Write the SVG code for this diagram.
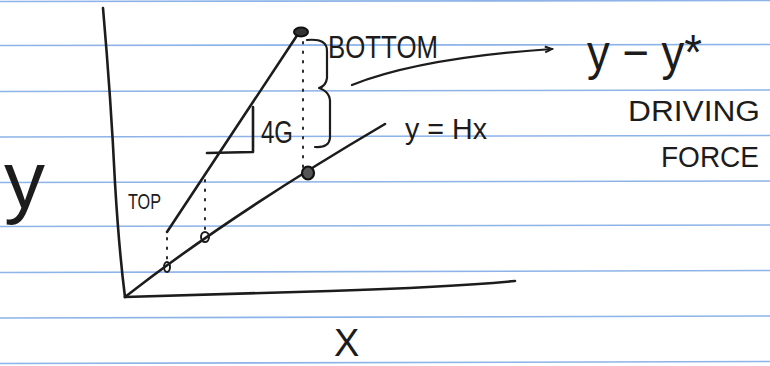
<svg xmlns="http://www.w3.org/2000/svg" width="770" height="366" viewBox="0 0 770 366">
<defs>
<style>
.rule{stroke:#8db3e8;stroke-width:1.6;fill:none}
.ink{stroke:#1c1c1c;stroke-width:2.6;fill:none;stroke-linecap:round;stroke-linejoin:round}
.dot{stroke:#2a2a2a;stroke-width:2;fill:none;stroke-dasharray:1.5 8;stroke-linecap:round}
.lbl{font-family:"Liberation Sans",Arial,sans-serif;fill:#1c1c1c}
</style>
<marker id="arr" markerWidth="10" markerHeight="10" refX="8" refY="5" orient="auto" markerUnits="userSpaceOnUse">
<path d="M1,2 L8,5 L1,8" fill="none" stroke="#1c1c1c" stroke-width="2"/>
</marker>
</defs>
<rect width="770" height="366" fill="#ffffff"/>
<g id="paper">
<line class="rule" x1="0" y1="1.5" x2="770" y2="0.5"/>
<line class="rule" x1="0" y1="45.5" x2="770" y2="44.5"/>
<line class="rule" x1="0" y1="91.5" x2="770" y2="90"/>
<line class="rule" x1="0" y1="137" x2="770" y2="135.5"/>
<line class="rule" x1="0" y1="182.5" x2="770" y2="181"/>
<line class="rule" x1="0" y1="226.5" x2="770" y2="225"/>
<line class="rule" x1="0" y1="272.5" x2="770" y2="270.5"/>
<line class="rule" x1="0" y1="318" x2="770" y2="316"/>
<line class="rule" x1="0" y1="363.5" x2="770" y2="361.5"/>
</g>
<g id="axes">
<path class="ink" d="M103,8 Q111,100 115,183 Q119,250 125,297"/>
<path class="ink" d="M125,297 L330,291 Q450,287 515,281"/>
</g>
<g id="connectors">
<path id="equilibrium-line" class="ink" d="M125,297 Q230,215 385,124"/>
<path id="operating-line" class="ink" d="M167,232 L298,34"/>
<path id="triangle" class="ink" d="M207,153 L253,152 L253,107"/>
<path class="dot" d="M303,42 L303,168"/>
<path class="dot" d="M205,180 L205,232"/>
<path class="dot" d="M167,238 L167,262"/>
<path id="brace" class="ink" style="stroke-width:2.2" d="M307,40 Q328,38 327,52 L327,78 Q326,86 319,88 Q331,92 330,104 L330,138 Q329,148 315,147"/>
<path id="arrow" class="ink" style="stroke-width:2.2" d="M352,85 Q420,58 552,49" marker-end="url(#arr)"/>
</g>
<g id="points">
<ellipse cx="301" cy="32" rx="7" ry="4.5" fill="#333" stroke="#111" stroke-width="2"/>
<ellipse cx="308" cy="173" rx="6" ry="6.5" fill="#555" stroke="#111" stroke-width="2.2"/>
<ellipse cx="205" cy="237" rx="4" ry="5" fill="none" stroke="#1c1c1c" stroke-width="2"/>
<ellipse cx="167" cy="267" rx="3" ry="5" fill="none" stroke="#1c1c1c" stroke-width="2"/>
</g>
<g id="labels">
<text class="lbl" x="328" y="58" font-size="32" textLength="110" lengthAdjust="spacingAndGlyphs">BOTTOM</text>
<text class="lbl" x="587" y="70" font-size="50" textLength="115" lengthAdjust="spacingAndGlyphs">y − y*</text>
<text class="lbl" x="628" y="121" font-size="30" textLength="132" lengthAdjust="spacingAndGlyphs">DRIVING</text>
<text class="lbl" x="661" y="167" font-size="30" textLength="98" lengthAdjust="spacingAndGlyphs">FORCE</text>
<text class="lbl" x="405" y="139" font-size="30" textLength="82" lengthAdjust="spacingAndGlyphs">y = Hx</text>
<text class="lbl" x="261" y="143" font-size="32" textLength="32" lengthAdjust="spacingAndGlyphs">4G</text>
<text class="lbl" x="128" y="209" font-size="22" textLength="33" lengthAdjust="spacingAndGlyphs">TOP</text>
<text class="lbl" x="4" y="208" font-size="82">y</text>
<text class="lbl" x="334" y="356" font-size="38">X</text>
</g>
</svg>
